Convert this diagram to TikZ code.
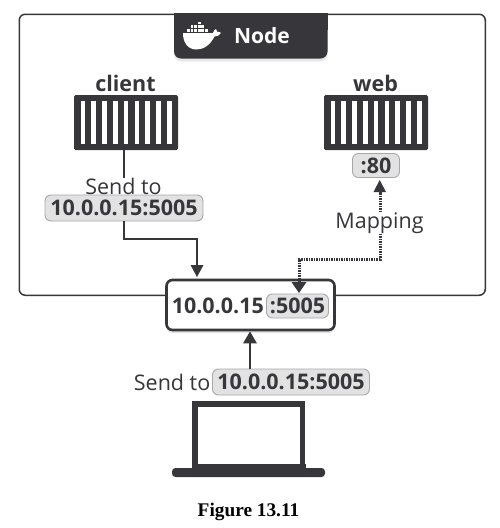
\documentclass[tikz,border=0pt]{standalone}
\usepackage{fontspec}
\setmainfont{Open Sans}
\newfontfamily\capfont{Liberation Serif}
\usetikzlibrary{arrows.meta,shadows,positioning}
\definecolor{ink}{HTML}{36363B}
\definecolor{pill}{HTML}{E2E2E2}
\definecolor{pillb}{HTML}{A8A8A8}
\tikzset{
 x=1pt,y=-1pt,
 every node/.style={text=ink,inner sep=0pt},
 lbl/.style={font=\fontsize{21.5}{23}\selectfont},
 head/.style={font=\fontsize{21.5}{23}\selectfont\bfseries},
 pillbox/.style={draw=pillb,fill=pill,line width=0.9pt,rounded corners=6pt,font=\fontsize{21.5}{23}\selectfont\bfseries,anchor=center},
 conn/.style={draw=ink,line width=2.6pt,-{Triangle[length=12pt,width=13pt]}},
 plainconn/.style={draw=ink,line width=2.6pt},
 dotconn/.style={draw=ink,line width=3pt,dash pattern=on 1.4pt off 1.1pt},
}
\newcommand{\crate}[3]{%
 \fill[ink,rounded corners=1.5pt] (#1,#2) rectangle ++(104,55);
 \foreach \i in {0,...,8}{\fill[white] (#1+6.5+\i*10.8,#2+6) rectangle ++(4.6,43);}
 \node[#3,minimum width=104pt,minimum height=55pt,anchor=north west] at (#1,#2) {};
}
\begin{document}
\begin{tikzpicture}
\useasboundingbox (0,0) rectangle (500,528);
\fill[white] (0,0) rectangle (500,528);
% node frame
\node[name=frame,draw=ink,line width=1.5pt,rounded corners=6pt,minimum width=466pt,minimum height=281pt,anchor=north west,fill=white] at (18.5,13.5) {};
% Node tab
\fill[ink,rounded corners=7pt,drop shadow={opacity=.18,shadow xshift=0pt,shadow yshift=-3pt}] (174,13) -- (174,58.5) -- (327.5,58.5) -- (327.5,13) -- cycle;
\fill[ink] (174,13) rectangle (327.5,30);
% whale
\fill[white] (183,33) -- (213,33) .. controls (213.5,31) and (214.5,29.5) .. (216,29) .. controls (216.5,30.5) and (217,31.5) .. (217.5,32) .. controls (218.5,31.5) and (220,32) .. (221,33) .. controls (219.5,35.5) and (217,36.5) .. (214.5,36.5) .. controls (210.5,44.5) and (204,49.5) .. (196.5,49.5) .. controls (188,49.5) and (183,43) .. (183,33) -- cycle;
\foreach \a/\b in {187/29,190.6/29,194.2/29,197.8/29,201.4/29,205/29,190.6/25.4,194.2/25.4,197.8/25.4,201.4/25.4,197.8/21.5}{\fill[white] (\a,\b) rectangle ++(2.8,2.8);}
\node[name=tab,font=\fontsize{21}{23}\selectfont\bfseries,text=white] at (262,35.5) {Node};
% containers
\crate{74}{95}{name=clientbox}
\crate{324}{95}{name=webbox}
\node[name=client,head] at (125.5,83) {client};
\node[name=web,head] at (375.5,83) {web};
% pills
\node[name=sendpill,pillbox,minimum width=158pt,minimum height=26pt] at (124,208) {10.0.0.15:5005};
\node[name=sendlbl,lbl] at (123.5,186.5) {Send to};
\node[name=portpill,pillbox,minimum width=47pt,minimum height=24pt] at (376,165.5) {:80};
\node[name=mapping,lbl] at (379.5,223) {Mapping};
% central box
\node[name=host,draw=ink,line width=2.6pt,fill=white,rounded corners=6pt,minimum width=168pt,minimum height=50pt,drop shadow={opacity=.22,shadow xshift=0pt,shadow yshift=-3pt}] at (250.5,305) {};
\node[name=hostip,font=\fontsize{21.5}{23}\selectfont\bfseries,anchor=east] at (264,306) {10.0.0.15};
\node[name=hostport,pillbox,minimum width=62pt,minimum height=24pt] at (297.5,306) {:5005};
% bottom
\node[name=laptopsend,lbl,anchor=east] at (210.5,382) {Send to};
\node[name=bottompill,pillbox,minimum width=157pt,minimum height=26pt] at (291,382) {10.0.0.15:5005};
% laptop
\draw[ink,line width=5.8pt] (195,472) -- (195,404) -- (302.5,404) -- (302.5,472);
\fill[ink,rounded corners=3.5pt] (172,468) rectangle (325,477);
\fill[ink] (192,464) rectangle (305.5,472);
\node[name=caption,font=\capfont\bfseries\fontsize{19.3}{21}\selectfont,text=black] at (248.5,512) {Figure 13.11};
% connectors
\draw[plainconn] (clientbox.south -| 124,150) -- (124,178);
\draw[plainconn] (sendpill.south -| 124,221) |- (197,239) -- (197,266);
\fill[ink] (190.5,265) -- (203.5,265) -- (197,277) -- cycle;
\draw[dotconn] (mapping.south -| 380,236) -- (380,259) -- (299,259) -- (299,282);
\fill[ink] (291.5,282) -- (306.5,282) -- (299,293) -- cycle;
\draw[dotconn] (mapping.north -| 380,209) -- (380,192);
\fill[ink] (373.5,192) -- (386,192) -- (379.7,180) -- cycle;
\draw[conn] (bottompill.north -| 250,368) -- (host.south -| 250,330);
\end{tikzpicture}
\end{document}
